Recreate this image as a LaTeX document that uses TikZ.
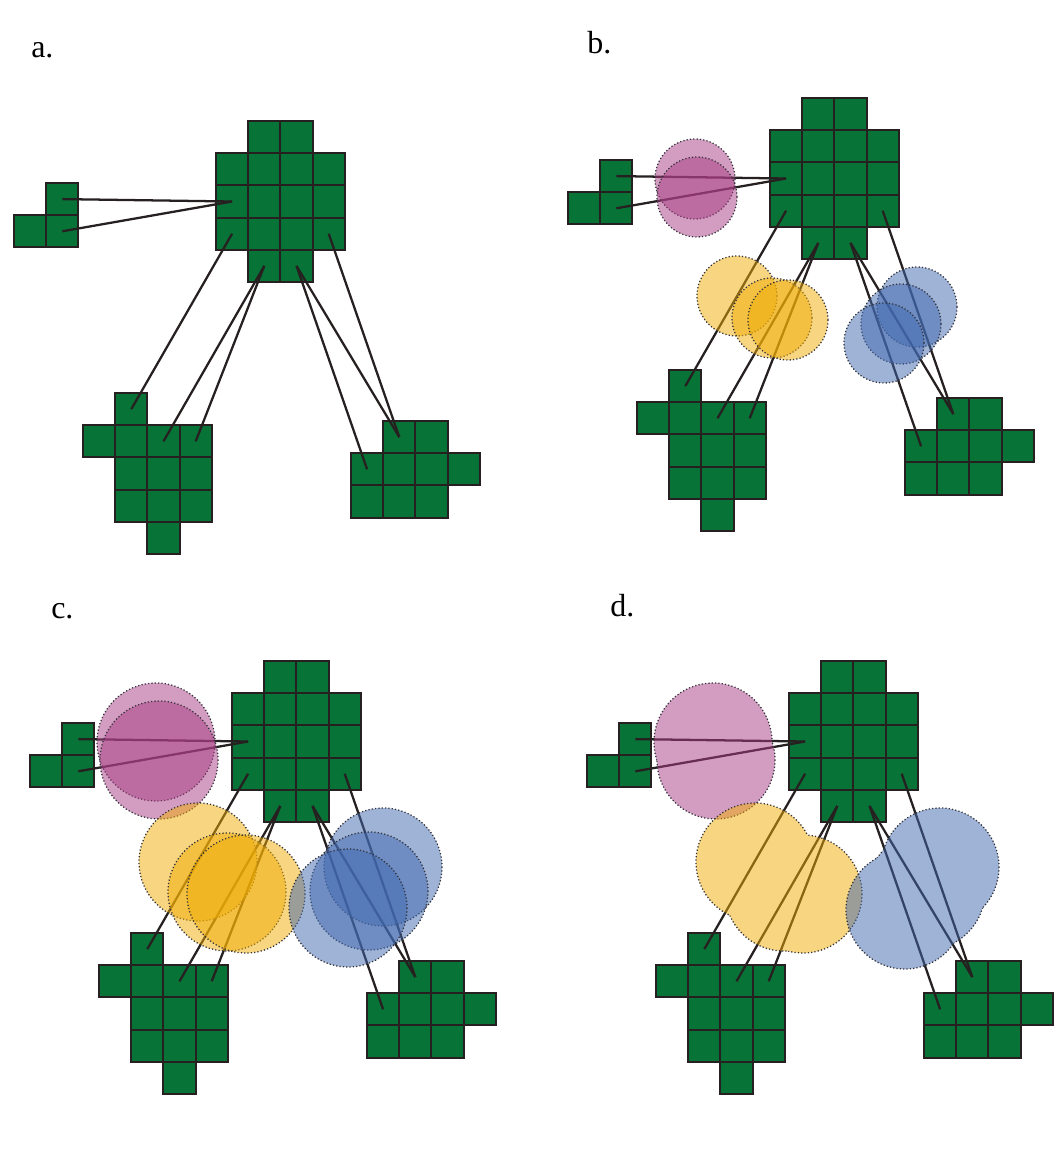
\documentclass[tikz,border=0pt]{standalone}
\usepackage{fontspec}
\setmainfont{Liberation Serif}
\definecolor{cellgreen}{RGB}{8,115,55}
\definecolor{cellline}{RGB}{38,32,32}
\definecolor{dotcol}{RGB}{50,50,58}
\definecolor{pinkc}{RGB}{169,61,133}
\definecolor{yellowc}{RGB}{241,173,5}
\definecolor{bluec}{RGB}{65,105,175}
\tikzset{
  cell/.style={fill=cellgreen,draw=cellline,line width=1.6pt},
  link/.style={draw=cellline,line width=1.7pt},
  dotrim/.style={draw=dotcol,line width=0.95pt,dash pattern=on 0.9pt off 1.6pt},
  lab/.style={anchor=base west,inner sep=0pt,font=\fontsize{24}{28}\selectfont}
}
\newcommand\drawcluster[4]{%
  \foreach \cc/\rr in {#4}{%
    \draw[cell] ({#2+\cc*32.2},{#3+\rr*32.2}) rectangle ++(32.2,32.2);
    \coordinate (#1-\cc-\rr) at ({#2+(\cc+0.5)*32.2},{#3+(\rr+0.5)*32.2});
  }%
}
\newcommand\network[1]{%
  \drawcluster{#1S}{14}{183}{1/0,0/1,1/1}
  \drawcluster{#1B}{216}{121}{1/0,2/0,0/1,1/1,2/1,3/1,0/2,1/2,2/2,3/2,0/3,1/3,2/3,3/3,1/4,2/4}
  \drawcluster{#1L}{83}{393}{1/0,0/1,1/1,2/1,3/1,1/2,2/2,3/2,1/3,2/3,3/3,2/4}
  \drawcluster{#1R}{351}{421}{1/0,2/0,0/1,1/1,2/1,3/1,0/2,1/2,2/2}
  \draw[link] (#1S-1-0) -- (#1B-0-2);
  \draw[link] (#1S-1-1) -- (#1B-0-2);
  \draw[link] (#1B-0-3) -- (#1L-1-0);
  \draw[link] (#1B-1-4) -- (#1L-2-1);
  \draw[link] (#1B-1-4) -- (#1L-3-1);
  \draw[link] (#1B-2-4) -- (#1R-0-1);
  \draw[link] (#1B-2-4) -- (#1R-1-0);
  \draw[link] (#1B-3-3) -- (#1R-1-0);
}
\newcommand\blob[4]{%
  \fill[#1,fill opacity=0.5] (#2,#3) circle[radius=#4];
  \draw[dotrim] (#2,#3) circle[radius=#4];
}
\newcommand\outside[3]{\clip (-700,-700) rectangle (1800,1900) (#1,#2) circle[radius=#3];}
\newcommand\duounion[6]{% color x1 y1 x2 y2 r
  \fill[#1,fill opacity=0.5] (#2,#3) circle[radius=#6] (#4,#5) circle[radius=#6];
  \begin{scope}[even odd rule]\outside{#4}{#5}{#6}\draw[dotrim] (#2,#3) circle[radius=#6];\end{scope}
  \begin{scope}[even odd rule]\outside{#2}{#3}{#6}\draw[dotrim] (#4,#5) circle[radius=#6];\end{scope}
}
\newcommand\triunion[8]{% color x1 y1 x2 y2 x3 y3 r
  \fill[#1,fill opacity=0.5] (#2,#3) circle[radius=#8] (#4,#5) circle[radius=#8] (#6,#7) circle[radius=#8];
  \begin{scope}[even odd rule]\outside{#4}{#5}{#8}\outside{#6}{#7}{#8}\draw[dotrim] (#2,#3) circle[radius=#8];\end{scope}
  \begin{scope}[even odd rule]\outside{#2}{#3}{#8}\outside{#6}{#7}{#8}\draw[dotrim] (#4,#5) circle[radius=#8];\end{scope}
  \begin{scope}[even odd rule]\outside{#2}{#3}{#8}\outside{#4}{#5}{#8}\draw[dotrim] (#6,#7) circle[radius=#8];\end{scope}
}
\begin{document}
\begin{tikzpicture}[x=0.75pt,y=-0.75pt]
\fill[white] (0,0) rectangle (1056,1160);
\useasboundingbox (0,0) rectangle (1056,1160);

% labels
\node[lab] (la) at (31,57) {a.};
\node[lab] (lb) at (587,53) {b.};
\node[lab] (lc) at (51,618) {c.};
\node[lab] (ld) at (610,616) {d.};

% panel a
\begin{scope}
  \network{a}
\end{scope}

% panel b
\begin{scope}[shift={(554,-23)}]
  \network{b}
  \blob{pinkc}{141}{202}{40}
  \blob{pinkc}{143}{220}{40}
  \blob{yellowc}{183}{319}{40}
  \blob{yellowc}{218}{341}{40}
  \blob{yellowc}{234}{343}{40}
  \blob{bluec}{363}{330}{40}
  \blob{bluec}{347}{347}{40}
  \blob{bluec}{330}{366}{40}
\end{scope}

% panel c
\begin{scope}[shift={(16,540)}]
  \network{c}
  \blob{pinkc}{140}{202}{59}
  \blob{pinkc}{143}{220}{59}
  \blob{yellowc}{182}{322}{59}
  \blob{yellowc}{211}{352}{59}
  \blob{yellowc}{230}{354}{59}
  \blob{bluec}{367}{327}{59}
  \blob{bluec}{353}{351}{59}
  \blob{bluec}{332}{368}{59}
\end{scope}

% panel d
\begin{scope}[shift={(573,540)}]
  \network{d}
  \duounion{pinkc}{140}{202}{143}{220}{59}
  \triunion{yellowc}{182}{322}{211}{352}{230}{354}{59}
  \triunion{bluec}{367}{327}{353}{351}{332}{370}{59}
\end{scope}
\end{tikzpicture}
\end{document}
